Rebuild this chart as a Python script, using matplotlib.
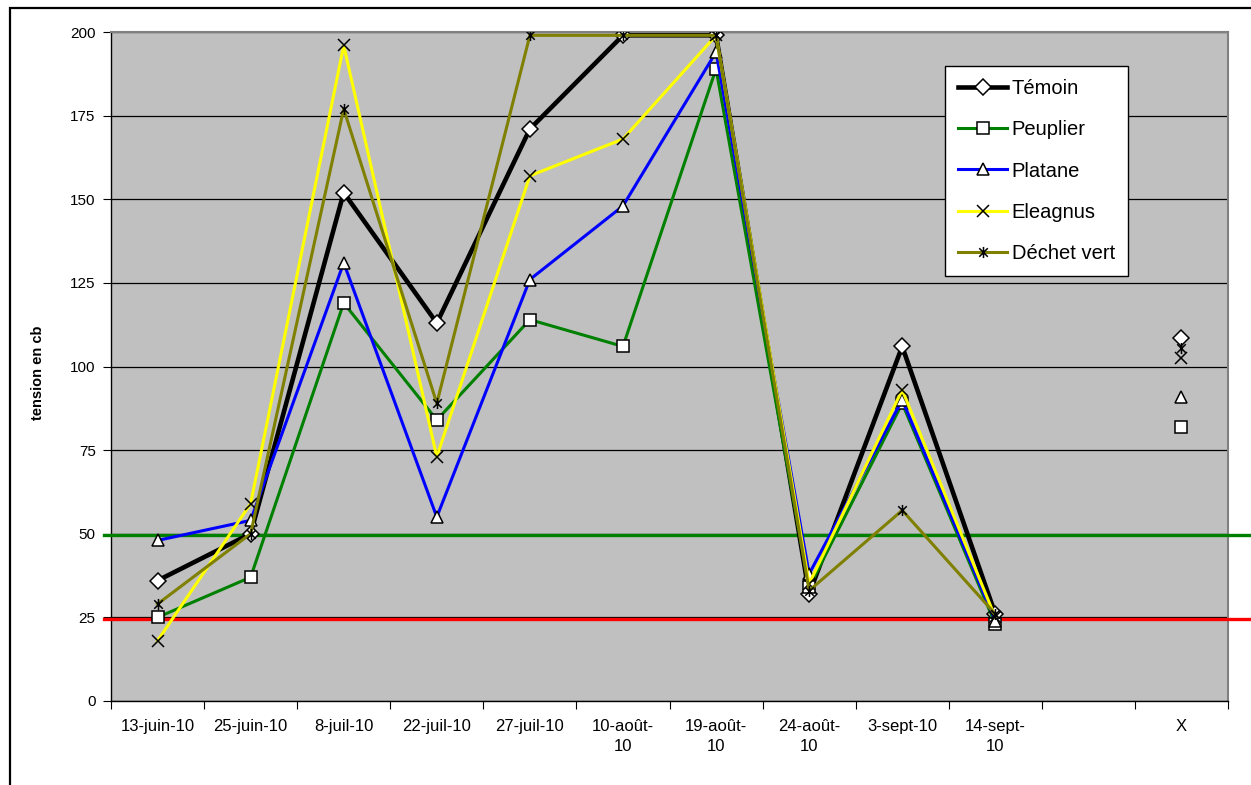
import numpy as np
import matplotlib
matplotlib.use("Agg")
import matplotlib.pyplot as plt
from matplotlib.path import Path
from matplotlib.patches import Rectangle
import matplotlib.transforms as mtransforms

plt.rcParams['font.family'] = ['Liberation Sans', 'DejaVu Sans']

dates = ["13-juin-10", "25-juin-10", "8-juil-10", "22-juil-10", "27-juil-10",
         "10-août-\n10", "19-août-\n10", "24-août-\n10", "3-sept-10",
         "14-sept-\n10", "", "X"]

nan = np.nan
temoin = [36, 50, 152, 113, 171, 199, 199, 32, 106, 26, nan, 108.5]
peuplier = [25, 37, 119, 84, 114, 106, 189, 34, 89, 23, nan, 82]
platane = [48, 54, 131, 55, 126, 148, 194, 38, 90, 24, nan, 91]
eleagnus = [18, 59, 196, 73, 157, 168, 199, 35, 93, 25, nan, 102.5]
dechet_vert = [29, 50, 177, 89, 199, 199, 199, 33, 57, 26, nan, 105.5]

seuil_haut = 49.6
seuil_bas = 24.5

# star marker: an x with a vertical stroke through it
star = Path([(-1, -1), (1, 1), (-1, 1), (1, -1), (0, -1.3), (0, 1.3)],
            [Path.MOVETO, Path.LINETO, Path.MOVETO, Path.LINETO,
             Path.MOVETO, Path.LINETO])

x = np.arange(len(dates))

fig = plt.figure(figsize=(12.51, 7.85), dpi=100)
ax = fig.add_axes([111 / 1251, 84 / 785, 1117 / 1251, 669 / 785])
ax.set_facecolor("#C0C0C0")

series = [
    ("Témoin", temoin, "black", 3.3, "D", 8.5),
    ("Peuplier", peuplier, "#008000", 2.2, "s", 8),
    ("Platane", platane, "#0000FF", 2.2, "^", 8),
    ("Eleagnus", eleagnus, "#FFFF00", 2.2, "x", 8.5),
    ("Déchet vert", dechet_vert, "#808000", 2.2, star, 8),
]
for name, vals, col, lw, mk, ms in series:
    ax.plot(x, vals, color=col, lw=lw, marker=mk, ms=ms,
            mfc="white", mec="black", mew=1.1, label=name, zorder=4)

# threshold lines running past the plot edges
trans = mtransforms.blended_transform_factory(ax.transAxes, ax.transData)
ax.plot([-0.006, 1.05], [seuil_haut, seuil_haut], color="#008000", lw=2.4,
        transform=trans, clip_on=False, zorder=3)
ax.plot([-0.006, 1.05], [seuil_bas, seuil_bas], color="#FF0000", lw=2.4,
        transform=trans, clip_on=False, zorder=3)

ax.set_xlim(-0.5, len(dates) - 0.5)
ax.set_ylim(0, 200)
ax.set_yticks(np.arange(0, 201, 25))
ax.yaxis.grid(True, color="black", lw=0.9)
ax.set_axisbelow(True)
ax.tick_params(axis="y", direction="out", length=6, pad=5, labelsize=11)

ax.set_xticks(np.arange(-0.5, len(dates), 1))
ax.set_xticklabels([])
ax.set_xticks(x, minor=True)
ax.set_xticklabels(dates, minor=True, fontsize=12, linespacing=1.45)
ax.tick_params(axis="x", which="major", direction="out", length=6)
ax.tick_params(axis="x", which="minor", length=0, pad=13)

ax.set_ylabel("tension en cb", fontsize=10.5, fontweight="bold")
ax.yaxis.set_label_coords(-0.059, 0.49)

for side in ["top", "right"]:
    ax.spines[side].set_color("#808080")
    ax.spines[side].set_linewidth(1.5)
for side in ["left", "bottom"]:
    ax.spines[side].set_color("black")
    ax.spines[side].set_linewidth(1.0)

leg = ax.legend(loc="upper left", bbox_to_anchor=(0.747, 0.949),
                borderaxespad=0, fontsize=14.5, handlelength=2.4,
                handletextpad=0.25, labelspacing=1.1, borderpad=0.65,
                fancybox=False, framealpha=1, edgecolor="black")
leg.get_frame().set_linewidth(1.0)

# outer chart frame
fig.patches.append(Rectangle((10 / 1251, -0.1), 1.2, (777 / 785) + 0.1,
                             transform=fig.transFigure, fill=False,
                             edgecolor="black", lw=1.6))

fig.savefig("out.png", dpi=100, facecolor="white")
